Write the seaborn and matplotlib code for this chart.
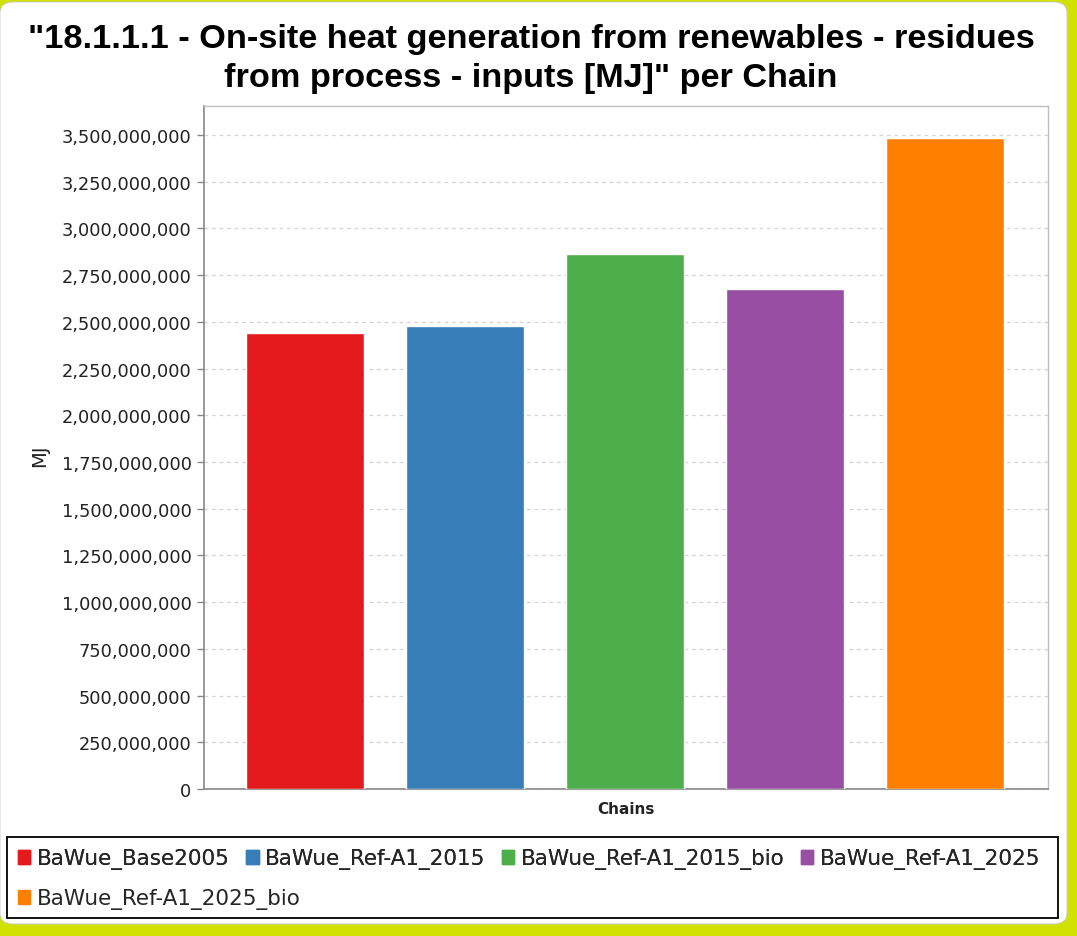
import seaborn as sns
import matplotlib.pyplot as plt
from matplotlib.patches import Patch, Rectangle, FancyBboxPatch
from matplotlib.ticker import FuncFormatter, MultipleLocator

chains = ["BaWue_Base2005", "BaWue_Ref-A1_2015", "BaWue_Ref-A1_2015_bio",
          "BaWue_Ref-A1_2025", "BaWue_Ref-A1_2025_bio"]
values = [2.440e9, 2.478e9, 2.863e9, 2.674e9, 3.482e9]
colors = ["#e41a1c", "#377eb8", "#4daf4a", "#984ea3", "#ff7f00"]

title = '"18.1.1.1 - On-site heat generation from renewables - residues\nfrom process - inputs [MJ]" per Chain'

sns.set_theme(style="white")
plt.rcParams['font.family'] = ['DejaVu Sans']

W, H = 1077, 937
fig = plt.figure(figsize=(W / 100, H / 100), dpi=100)
fig.patch.set_facecolor("#d2e200")

# white rounded panel over the yellow-green frame
panel = FancyBboxPatch((0 / W, 1 - 925 / H), 1067 / W, 922 / H,
                       boxstyle="round,pad=0,rounding_size=0.012",
                       transform=fig.transFigure, facecolor="white",
                       edgecolor="#c8c8c8", linewidth=0.6, zorder=-2)
fig.patches.append(panel)

ax = fig.add_axes([204 / W, 1 - 790 / H, 844 / W, 683 / H])
ax.set_facecolor("white")

sns.barplot(x=chains, y=values, hue=chains, palette=colors, width=0.74,
            saturation=1, legend=False, ax=ax, zorder=3)

ax.set_xlim(-0.63, 4.645)
ax.set_ylim(0, 3.655e9)
ax.set_xticks([])
ax.yaxis.set_major_locator(MultipleLocator(250_000_000))
ax.yaxis.set_major_formatter(FuncFormatter(lambda v, p: f"{int(round(v)):,}"))
ax.tick_params(axis="y", which="major", left=True, length=5, width=1,
               color="#888888", pad=4, labelsize=12.8, labelcolor="#222222")
ax.grid(axis="y", color="#d4d4d4", linestyle=(0, (3, 3)), linewidth=0.9, zorder=0)
ax.set_axisbelow(True)
for side in ["left", "bottom"]:
    ax.spines[side].set_color("#888888")
    ax.spines[side].set_linewidth(1.2)
for side in ["top", "right"]:
    ax.spines[side].set_color("#c0c0c0")
    ax.spines[side].set_linewidth(1)

ax.set_ylabel("MJ", fontsize=14, color="#222222")
ax.yaxis.set_label_coords(-0.184, 0.49)
ax.set_xlabel("Chains", fontsize=11, fontweight="bold", color="#222222", labelpad=9)

fig.text(531 / W, 1 - 59 / H, title, ha="center", va="center",
         fontsize=24.7, fontweight="bold", family=["Liberation Sans"],
         linespacing=1.3, color="black")

# legend box
frame = Rectangle((7 / W, 1 - 919 / H), 1051 / W, 81 / H, transform=fig.transFigure,
                  facecolor="white", edgecolor="black", linewidth=1.3, zorder=-1)
fig.patches.append(frame)

handles = [Patch(facecolor=c, edgecolor=c) for c in colors]
leg_kw = dict(loc="center left", frameon=False, fontsize=15.5,
              handlelength=0.58, handleheight=0.58, handletextpad=0.3,
              borderaxespad=0, borderpad=0)
leg1 = fig.legend(handles[:4], chains[:4], bbox_to_anchor=(18 / W, 1 - 860 / H),
                  ncol=4, columnspacing=0.76, **leg_kw)
fig.legend(handles[4:], chains[4:], bbox_to_anchor=(18 / W, 1 - 900 / H),
           ncol=1, **leg_kw)
fig.add_artist(leg1)

fig.savefig("out.png", dpi=100, facecolor=fig.get_facecolor())
